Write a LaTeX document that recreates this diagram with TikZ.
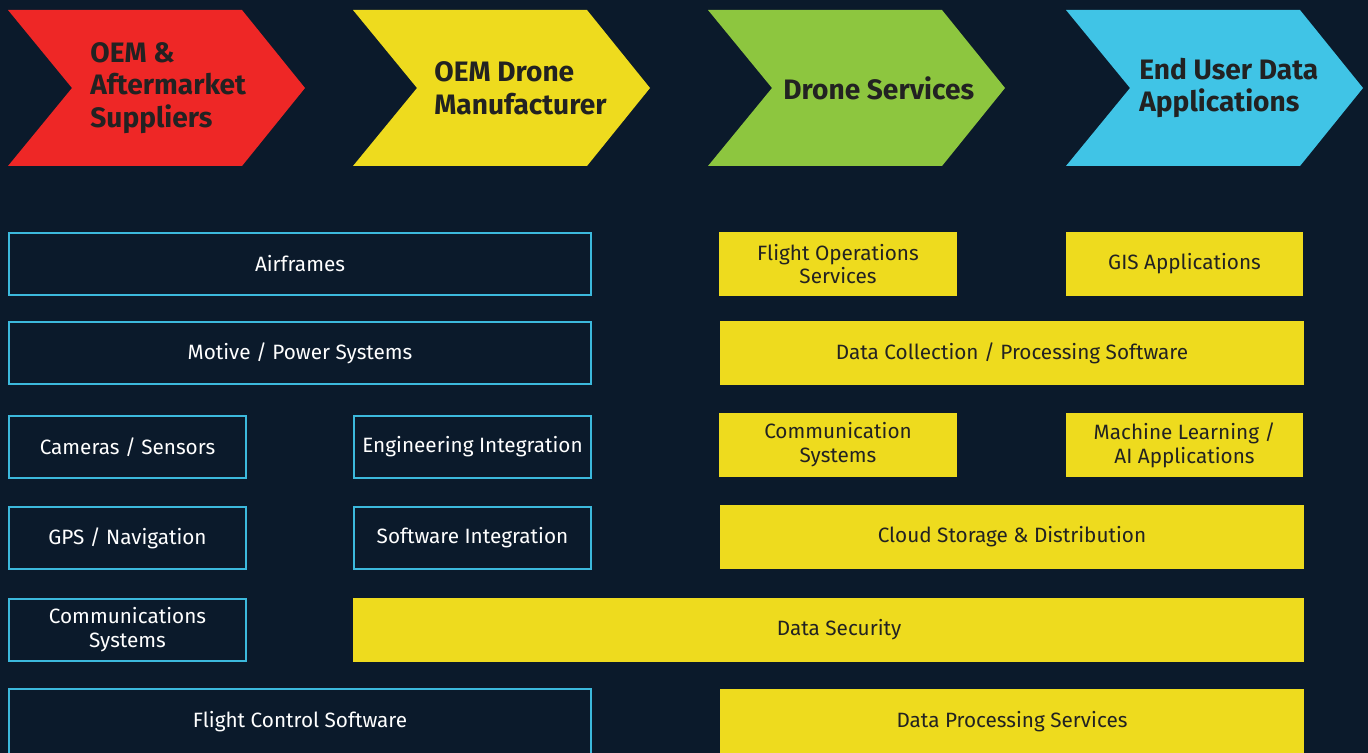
\documentclass[tikz,border=0pt]{standalone}
\usepackage{fontspec}
\setmainfont{Fira Sans}
\usetikzlibrary{positioning}
\definecolor{bgnavy}{HTML}{0B1A2B}
\definecolor{supred}{HTML}{EE2726}
\definecolor{oemyellow}{HTML}{EEDB1E}
\definecolor{svcgreen}{HTML}{8DC63F}
\definecolor{appblue}{HTML}{40C4E6}
\definecolor{boxcyan}{HTML}{3CB9DD}
\definecolor{inkdark}{HTML}{222222}
\tikzset{
	stagetext/.style={anchor=west, align=left, inner sep=0pt, text=inkdark, font=\fontsize{16}{18.7}\selectfont\bfseries},
	partbox/.style={draw=boxcyan, line width=1.13pt, fill=bgnavy, text=white, align=center, inner sep=0pt, minimum height=1.24cm, font=\fontsize{11.8}{13.6}\selectfont},
	svcbox/.style={fill=oemyellow, text=inkdark, align=center, inner sep=0pt, minimum height=1.28cm, font=\fontsize{11.8}{13.6}\selectfont},
	widepart/.style={partbox, minimum width=11.64cm},
	smallpart/.style={partbox, minimum width=4.74cm},
	widesvc/.style={svcbox, minimum width=11.68cm},
	smallsvc/.style={svcbox, minimum width=4.76cm}
}
\begin{document}
\begin{tikzpicture}[x=0.02cm, y=-0.02cm]
		\useasboundingbox (0,0) rectangle (1368,753);
		\fill[bgnavy] (0,0) rectangle (1368,753);
		\clip (0,0) rectangle (1368,753);
		\foreach \sx/\col/\tx/\nm/\lbl in {8/supred/90/oem/{OEM \&\\Aftermarket\\Suppliers}, 353/oemyellow/434/mfr/{OEM Drone\\Manufacturer}, 708/svcgreen/783/svc/{Drone Services}, 1066/appblue/1139/app/{End User Data\\Applications}}
		{
		\fill[\col] (\sx,10) -- ++(234,0) -- ++(63,78) -- ++(-63,78) -- ++(-234,0) -- ++(64,-78) -- cycle;
		\node[stagetext] (\nm) at (\tx,88) {\lbl};
		}
		\node[widepart] (airframes) at (300,264) {Airframes};
		\node[widepart] (motive) at (300,353) {Motive / Power Systems};
		\node[smallpart] (cameras) at (127.5,447) {Cameras / Sensors};
		\node[smallpart] (enginteg) at (472.5,447) {Engineering Integration};
		\node[smallpart] (gps) at (127.5,538) {GPS / Navigation};
		\node[smallpart] (swinteg) at (472.5,538) {Software Integration};
		\node[smallpart] (commsys) at (127.5,630) {Communications\\Systems};
		\node[widepart, minimum height=1.32cm] (flightctl) at (300,722) {Flight Control Software};
		\node[smallsvc] (flightops) at (838,264) {Flight Operations\\Services};
		\node[smallsvc] (gis) at (1184.5,264) {GIS Applications};
		\node[widesvc] (datacoll) at (1012,353) {Data Collection / Processing Software};
		\node[smallsvc] (commsvc) at (838,445) {Communication\\Systems};
		\node[smallsvc] (mlai) at (1184.5,445) {Machine Learning /\\AI Applications};
		\node[widesvc] (cloud) at (1012,537) {Cloud Storage \& Distribution};
		\node[svcbox, minimum width=19.02cm] (security) at (828.5,630) {\hspace*{12pt}Data Security};
		\node[widesvc, minimum height=1.32cm] (dataproc) at (1012,722) {Data Processing Services};
\end{tikzpicture}
\end{document}
